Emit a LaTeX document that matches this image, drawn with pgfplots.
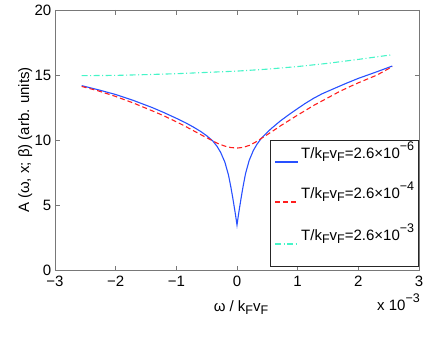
\documentclass[border=0pt]{standalone}
\usepackage{fontspec}
\setmainfont{Liberation Sans}
\usepackage{pgfplots}
\pgfplotsset{compat=1.18}
\definecolor{mblue}{RGB}{40,80,255}
\definecolor{mred}{RGB}{255,30,30}
\definecolor{mcyan}{RGB}{70,245,200}
\definecolor{axgray}{RGB}{120,120,120}
\newcommand{\sub}[1]{\raisebox{-0.45ex}{\fontsize{12.5}{12.5}\selectfont #1}}
\newcommand{\sups}[1]{\raisebox{0.9ex}{\fontsize{12.5}{12.5}\selectfont #1}}
\tikzset{
  blueline/.style={draw=mblue, line width=1.1pt},
  redline/.style={draw=mred, line width=1.1pt, dash pattern=on 5pt off 3pt},
  cyanline/.style={draw=mcyan, line width=1.1pt, dash pattern=on 6pt off 2.5pt on 1pt off 2.5pt},
}

\begin{document}
\fontsize{15}{18}\selectfont
\begin{tikzpicture}
\path[use as bounding box] (-55pt,-70pt) rectangle (388pt,270pt);
\begin{axis}[
  name=ax,
  at={(0,0)}, anchor=south west, scale only axis,
  width=364pt, height=260pt,
  xmin=-3, xmax=3, ymin=0, ymax=20,
  xtick={-3,-2,-1,0,1,2,3}, xticklabels={−3,−2,−1,0,1,2,3},
  ytick={0,5,10,15,20}, yticklabels={0,5,10,15,20},
  tick align=inside, major tick length=4.5pt,
  axis line style={axgray, line width=0.9pt},
  tick style={axgray, line width=0.7pt},
  xticklabel style={yshift=-1pt},
  yticklabel style={xshift=1.5pt},
  xlabel={ω / k\sub{F}v\sub{F}},
  xlabel style={at={(axis description cs:0.511,-0.158)}, anchor=base},
  ylabel={A (ω, x; β) (arb. units)},
  ylabel style={at={(axis description cs:-0.082,0.5)}, anchor=center},
]
% T/kFvF = 2.6e-6
\addplot[blueline] coordinates {
 (-2.56,14.18) (-2.3,13.88) (-2.0,13.5) (-1.7,13.03) (-1.4,12.5) (-1.2,12.1)
 (-1.0,11.67) (-0.85,11.33) (-0.72,11.0) (-0.6,10.66) (-0.5,10.33) (-0.4,9.93)
 (-0.33,9.52) (-0.27,9.05) (-0.2,8.3) (-0.14,7.3) (-0.1,6.35) (-0.07,5.55)
 (-0.04,4.7) (-0.02,4.1) (0,3.46) (0.02,4.12) (0.04,4.73) (0.07,5.6)
 (0.1,6.42) (0.14,7.4) (0.2,8.42) (0.27,9.2) (0.33,9.68) (0.4,10.12)
 (0.5,10.6) (0.57,10.9) (0.71,11.45) (0.87,12.0) (1.0,12.42) (1.12,12.8)
 (1.26,13.2) (1.4,13.55) (1.67,14.1) (1.81,14.38) (2.0,14.74) (2.3,15.24)
 (2.56,15.69)
};
% T/kFvF = 2.6e-4
\addplot[redline] coordinates {
 (-2.56,14.12) (-2.3,13.8) (-2.0,13.35) (-1.7,12.83) (-1.4,12.25) (-1.2,11.85)
 (-1.0,11.4) (-0.85,11.05) (-0.72,10.72) (-0.6,10.42) (-0.5,10.18) (-0.4,9.93)
 (-0.3,9.7) (-0.2,9.53) (-0.1,9.42) (0,9.38) (0.1,9.43) (0.2,9.58)
 (0.3,9.82) (0.4,10.12) (0.5,10.42) (0.6,10.72) (0.72,11.1) (0.85,11.48)
 (1.0,11.92) (1.12,12.25) (1.26,12.65) (1.4,13.0) (1.67,13.68) (1.81,14.0)
 (2.0,14.4) (2.3,14.98) (2.56,15.64)
};
% T/kFvF = 2.6e-3
\addplot[cyanline] coordinates {
 (-2.56,14.95) (-2.0,14.97) (-1.5,15.03) (-1.0,15.1) (-0.5,15.2) (0,15.3)
 (0.5,15.45) (1.0,15.65) (1.5,15.9) (2.0,16.2) (2.56,16.56)
};
\end{axis}
% legend, drawn by hand (MATLAB-style spacing)
\draw[black!85, line width=0.6pt, fill=white] (215pt,4pt) rectangle (363pt,130pt);
\draw[blueline] (220pt,108pt) -- (243pt,108pt);
\draw[redline] (220pt,68pt) -- (243pt,68pt);
\draw[cyanline] (220pt,26pt) -- (243pt,26pt);
\node[anchor=base west, inner sep=0pt] at (246pt,112pt) {T/k\sub{F}v\sub{F}=2.6×10\sups{−6}};
\node[anchor=base west, inner sep=0pt] at (246pt,72pt) {T/k\sub{F}v\sub{F}=2.6×10\sups{−4}};
\node[anchor=base west, inner sep=0pt] at (246pt,30pt) {T/k\sub{F}v\sub{F}=2.6×10\sups{−3}};
\node[anchor=base east, inner sep=0pt] at ([xshift=1pt,yshift=-40pt]ax.south east) {x 10\sups{−3}};
\end{tikzpicture}
\end{document}
